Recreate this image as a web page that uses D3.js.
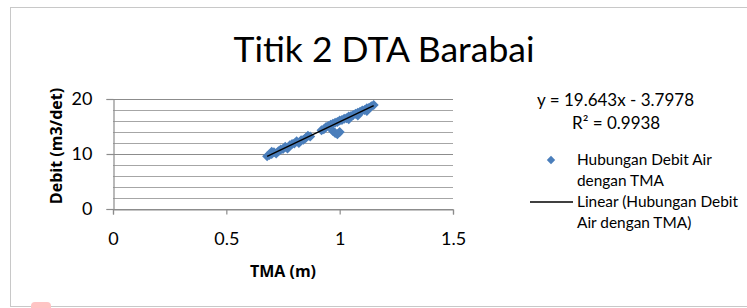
<!DOCTYPE html>
<html>
<head>
<meta charset="utf-8">
<script src="https://cdn.jsdelivr.net/npm/d3@7"></script>
<style>
  body { margin: 0; background: #fff; }
  svg { display: block; font-family: Lato, "Open Sans", sans-serif; }
</style>
</head>
<body>
<svg width="747" height="308"></svg>
<script>
// TMA (m) vs Debit (m3/det)
var tma = [0.68, 0.69, 0.70, 0.70, 0.71, 0.72, 0.73, 0.74, 0.75, 0.76, 0.77, 0.78, 0.79, 0.80, 0.81, 0.82,
           0.83, 0.84, 0.85, 0.86, 0.87,
           0.92, 0.93, 0.94, 0.95, 0.96, 0.97, 0.98, 0.99, 1.00, 0.97, 0.98, 0.99, 1.00, 1.01, 1.02,
           1.03, 1.04, 1.05, 1.06, 1.07, 1.08, 1.09, 1.10, 1.11, 1.12, 1.13, 1.14, 1.15, 1.04, 1.08, 1.12];
var debit = [9.6, 9.8, 10.0, 10.4, 10.3, 10.1, 10.5, 10.8, 10.9, 11.3, 11.0, 11.6, 11.8, 11.9, 12.3, 12.0,
             12.5, 12.6, 12.9, 13.3, 13.2,
             14.3, 14.5, 14.9, 15.1, 15.3, 14.2, 13.8, 13.6, 14.0, 15.5, 15.7, 15.8, 16.1, 16.2, 16.4,
             16.5, 16.8, 16.9, 17.1, 17.3, 17.5, 17.7, 17.9, 18.0, 18.3, 18.4, 18.7, 18.9, 16.3, 17.0, 17.8];
var xTicks = [0, 0.5, 1, 1.5];
var yTicks = [0, 10, 20];
var yMinor = [0, 2, 4, 6, 8, 10, 12, 14, 16, 18, 20];
var slope = 19.643, intercept = -3.7978, r2 = 0.9938;

var svg = d3.select("svg");

// chart frame
svg.append("rect")
    .attr("x", 10.5).attr("y", 7.5)
    .attr("width", 760).attr("height", 299)
    .attr("fill", "none").attr("stroke", "#c8c8c8");

// small pink mark at the bottom
svg.append("rect")
    .attr("x", 31).attr("y", 302).attr("width", 20).attr("height", 12)
    .attr("rx", 4).attr("fill", "#ffc4c4");

var x = d3.scaleLinear().domain([0, 1.5]).range([113, 453]),
    y = d3.scaleLinear().domain([0, 20]).range([209, 99]);

// gridlines
svg.append("g").selectAll("line")
    .data(yMinor).enter().append("line")
    .attr("x1", x(0)).attr("x2", x(1.5))
    .attr("y1", function (d) { return Math.round(y(d)) + 0.5; })
    .attr("y2", function (d) { return Math.round(y(d)) + 0.5; })
    .attr("stroke", function (d) { return d % 10 === 0 ? "#8c8c8c" : "#a6a6a6"; })
    .attr("stroke-width", 1.2);

// y axis
var gy = svg.append("g").attr("transform", "translate(" + (x(0) + 0.5) + ",0)")
    .call(d3.axisLeft(y).tickValues(yTicks).tickSize(7).tickPadding(14).tickFormat(d3.format("d")));
gy.select(".domain").attr("stroke", "#8c8c8c").attr("stroke-width", 1.2);
gy.selectAll(".tick line").attr("stroke", "#8c8c8c").attr("stroke-width", 1.2);
gy.selectAll("text").attr("font-size", 18).attr("fill", "#000").attr("font-family", "Lato");

// x axis
var gx = svg.append("g").attr("transform", "translate(0," + (y(0) + 0.5) + ")")
    .call(d3.axisBottom(x).tickValues(xTicks).tickSize(5).tickPadding(18).tickFormat(d3.format("")));
gx.select(".domain").attr("stroke", "#8c8c8c").attr("stroke-width", 1.2);
gx.selectAll(".tick line").attr("stroke", "#8c8c8c").attr("stroke-width", 1.2);
gx.selectAll("text").attr("font-size", 18).attr("fill", "#000").attr("font-family", "Lato");

// scatter points (diamonds)
var diamond = d3.symbol().type(d3.symbolDiamond2).size(64);
svg.append("g").selectAll("path")
    .data(tma.map(function (t, i) { return [t, debit[i]]; }))
    .enter().append("path")
    .attr("d", diamond)
    .attr("transform", function (d) { return "translate(" + x(d[0]) + "," + y(d[1]) + ")"; })
    .attr("fill", "#4a7ebb");

// linear trendline
var xmin = d3.min(tma), xmax = d3.max(tma);
svg.append("line")
    .attr("x1", x(xmin)).attr("y1", y(slope * xmin + intercept))
    .attr("x2", x(xmax)).attr("y2", y(slope * xmax + intercept))
    .attr("stroke", "#000").attr("stroke-width", 1.5);

// title
svg.append("text")
    .attr("x", 384).attr("y", 62)
    .attr("text-anchor", "middle")
    .attr("font-size", 35.5)
    .text("Titik 2 DTA Barabai");

// axis titles
svg.append("text")
    .attr("transform", "translate(62,146) rotate(-90)")
    .attr("text-anchor", "middle")
    .attr("font-family", "Open Sans")
    .attr("font-size", 16).attr("font-weight", "bold")
    .text("Debit (m3/det)");

svg.append("text")
    .attr("x", 283).attr("y", 277)
    .attr("text-anchor", "middle")
    .attr("font-family", "Open Sans")
    .attr("font-size", 16).attr("font-weight", "bold")
    .text("TMA (m)");

// trendline equation
svg.append("text")
    .attr("x", 537).attr("y", 106)
    .attr("font-size", 17)
    .text("y = " + slope + "x - " + (-intercept));
svg.append("text")
    .attr("x", 572).attr("y", 129)
    .attr("font-size", 17)
    .text("R² = " + r2);

// legend
var legend = svg.append("g").attr("font-size", 15.4);
legend.append("path")
    .attr("d", d3.symbol().type(d3.symbolDiamond2).size(45))
    .attr("transform", "translate(551,160)")
    .attr("fill", "#4a7ebb");
legend.append("text").attr("x", 577).attr("y", 165).text("Hubungan Debit Air");
legend.append("text").attr("x", 577).attr("y", 186).text("dengan TMA");
legend.append("line")
    .attr("x1", 530).attr("x2", 573).attr("y1", 202).attr("y2", 202)
    .attr("stroke", "#000").attr("stroke-width", 1.5);
legend.append("text").attr("x", 577).attr("y", 207).text("Linear (Hubungan Debit");
legend.append("text").attr("x", 577).attr("y", 228).text("Air dengan TMA)");
</script>
</body>
</html>
